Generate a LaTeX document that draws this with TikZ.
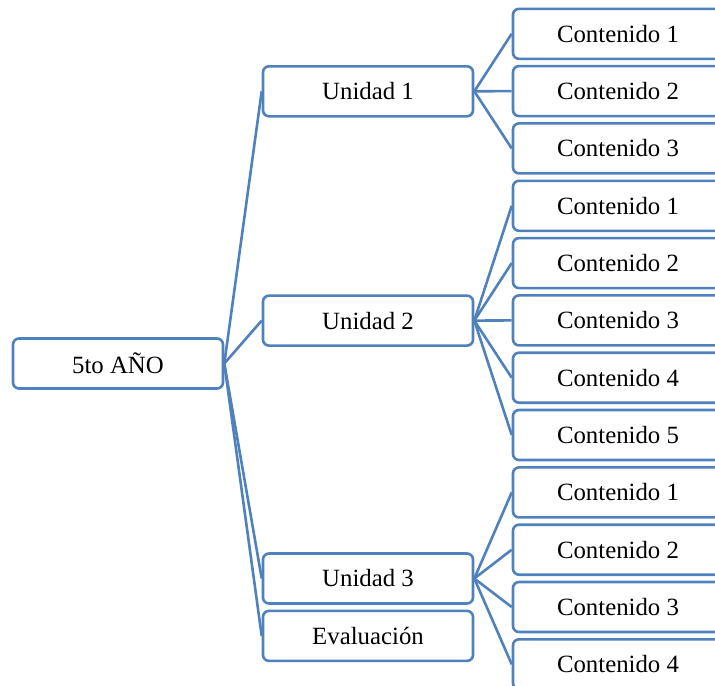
\documentclass[tikz,border=0pt]{standalone}
\usepackage{fontspec}
\setmainfont{Liberation Serif}
\usepackage{xcolor}
\usepackage{tikz}
\usetikzlibrary{positioning}

\definecolor{officeblue}{RGB}{79,129,189}

\begin{document}
\begin{tikzpicture}[
  x=0.5pt, y=-0.5pt,
  box/.style={rectangle, rounded corners=3pt, draw=officeblue, line width=1.3pt, fill=white, minimum width=105pt, minimum height=25pt, inner sep=0pt, font=\fontsize{12.4}{14}\selectfont, align=center},
  link/.style={draw=officeblue, line width=1.3pt}
]
\useasboundingbox (0,0) rectangle (715,685);

% Root
\node[box] (anio) at (118,363.5) {5to AÑO};

% Units
\node[box] (unidad1) at (368,91.3) {Unidad 1};
\node[box] (unidad2) at (368,320.6) {Unidad 2};
\node[box] (unidad3) at (368,578.5) {Unidad 3};
\node[box] (evaluacion) at (368,635.9) {Evaluación};

% Contents of unit 1
\node[box] (c1a) at (618,33.8) {Contenido 1};
\node[box] (c1b) at (618,91.1) {Contenido 2};
\node[box] (c1c) at (618,148.4) {Contenido 3};

% Contents of unit 2
\node[box] (c2a) at (618,205.8) {Contenido 1};
\node[box] (c2b) at (618,263.1) {Contenido 2};
\node[box] (c2c) at (618,320.4) {Contenido 3};
\node[box] (c2d) at (618,377.7) {Contenido 4};
\node[box] (c2e) at (618,435.0) {Contenido 5};

% Contents of unit 3
\node[box] (c3a) at (618,492.4) {Contenido 1};
\node[box] (c3b) at (618,549.7) {Contenido 2};
\node[box] (c3c) at (618,607.0) {Contenido 3};
\node[box] (c3d) at (618,664.3) {Contenido 4};

% Links
\draw[link] (anio.east) -- (unidad1.west);
\draw[link] (anio.east) -- (unidad2.west);
\draw[link] (anio.east) -- (unidad3.west);
\draw[link] (anio.east) -- (evaluacion.west);
\draw[link] (unidad1.east) -- (c1a.west);
\draw[link] (unidad1.east) -- (c1b.west);
\draw[link] (unidad1.east) -- (c1c.west);
\draw[link] (unidad2.east) -- (c2a.west);
\draw[link] (unidad2.east) -- (c2b.west);
\draw[link] (unidad2.east) -- (c2c.west);
\draw[link] (unidad2.east) -- (c2d.west);
\draw[link] (unidad2.east) -- (c2e.west);
\draw[link] (unidad3.east) -- (c3a.west);
\draw[link] (unidad3.east) -- (c3b.west);
\draw[link] (unidad3.east) -- (c3c.west);
\draw[link] (unidad3.east) -- (c3d.west);

\end{tikzpicture}
\end{document}
